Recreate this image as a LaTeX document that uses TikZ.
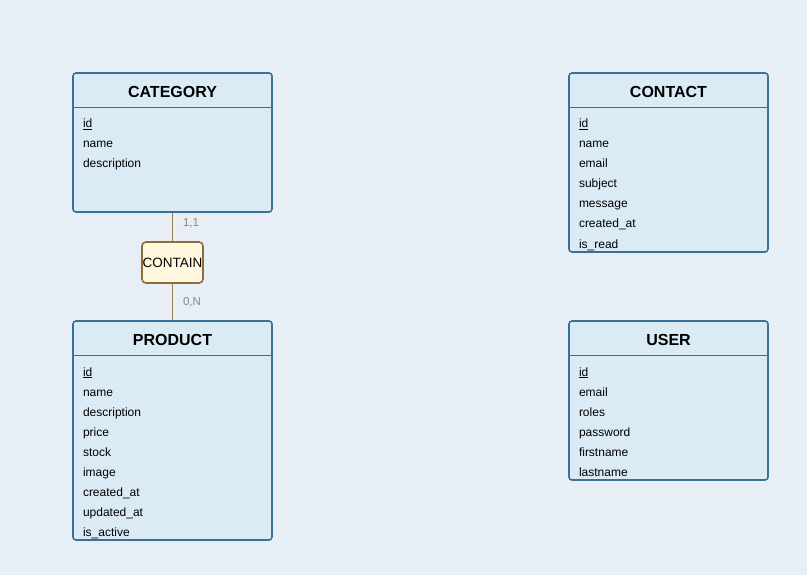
\documentclass[tikz,border=0pt]{standalone}
\usepackage{fontspec}
\setmainfont{Liberation Sans}
\usepackage{xcolor}
\usepackage{tikz}
\usetikzlibrary{positioning}

\definecolor{canvas}{HTML}{E7EEF5}
\definecolor{entityfill}{HTML}{DAEBF6}
\definecolor{entityline}{HTML}{3C7095}
\definecolor{assocfill}{HTML}{FFF7DE}
\definecolor{assocline}{HTML}{8C6C3A}
\definecolor{linkline}{HTML}{9C7E50}
\definecolor{cardone}{HTML}{B07A50}
\definecolor{cardmany}{HTML}{7D8A94}

\begin{document}
\begin{tikzpicture}[x=1pt, y=-1pt, node distance = 8pt]
    \tikzstyle{entity} = [draw=entityline, fill=entityfill, line width=1.6pt, rounded corners=3pt, minimum width=199pt, inner sep=0pt]
    \tikzstyle{title} = [font=\bfseries\fontsize{16}{19}\selectfont]
    \tikzstyle{sep} = [draw=entityline, line width=0.9pt]
    \tikzstyle{attr} = [font=\fontsize{12}{14}\selectfont, inner sep=0pt, outer sep=0pt, text width=150pt, align=left, text height=9pt, text depth=3pt]
    \tikzstyle{assoc} = [draw=assocline, fill=assocfill, line width=1.6pt, rounded corners=4pt, minimum width=61pt, minimum height=41pt, inner sep=0pt, font=\fontsize{13.5}{16}\selectfont]
    \tikzstyle{link} = [draw=linkline, line width=1pt]
    \tikzstyle{card} = [font=\fontsize{11.5}{14}\selectfont, inner sep=0pt]

    \fill [canvas] (0,0) rectangle (807,575);

    % entities
    \node [entity, minimum height=139pt] (category) at (172.5,142.5) {};
    \node [entity, minimum height=179pt] (contact) at (668.5,162.5) {};
    \node [entity, minimum height=219pt] (product) at (172.5,430.5) {};
    \node [entity, minimum height=159pt] (user) at (668.5,400.5) {};

    \foreach \e in {category, contact, product, user}
        \draw [sep] ([yshift=-35pt]\e.north west) -- ([yshift=-35pt]\e.north east);

    \node [title] (categorytitle) at (172.5,92) {CATEGORY};
    \node [title] (contacttitle) at (668.5,92) {CONTACT};
    \node [title] (producttitle) at (172.5,340) {PRODUCT};
    \node [title] (usertitle) at (668.5,340) {USER};

    % attributes
    \node [attr, anchor=west] (cat1) at (83,125) {\underline{id}};
    \foreach \a [count=\i from 2] in {name, description} {
        \pgfmathtruncatemacro\j{\i-1}
        \node [attr, below = of cat\j] (cat\i) {\a};
    }

    \node [attr, anchor=west] (con1) at (579,125) {\underline{id}};
    \foreach \a [count=\i from 2] in {name, email, subject, message, created\_at, is\_read} {
        \pgfmathtruncatemacro\j{\i-1}
        \node [attr, below = of con\j] (con\i) {\a};
    }

    \node [attr, anchor=west] (pro1) at (83,373) {\underline{id}};
    \foreach \a [count=\i from 2] in {name, description, price, stock, image, created\_at, updated\_at, is\_active} {
        \pgfmathtruncatemacro\j{\i-1}
        \node [attr, below = of pro\j] (pro\i) {\a};
    }

    \node [attr, anchor=west] (usr1) at (579,373) {\underline{id}};
    \foreach \a [count=\i from 2] in {email, roles, password, firstname, lastname} {
        \pgfmathtruncatemacro\j{\i-1}
        \node [attr, below = of usr\j] (usr\i) {\a};
    }

    % association
    \node [assoc] (contain) at (172.5,262.5) {CONTAIN};

    \draw [link] (category) -- node [card, pos=0.36, right=10pt, text=cardone] (cardcat) {1,1} (contain);
    \draw [link] (contain) -- node [card, pos=0.5, right=10pt, text=cardmany] (cardpro) {0,N} (product);
\end{tikzpicture}
\end{document}
